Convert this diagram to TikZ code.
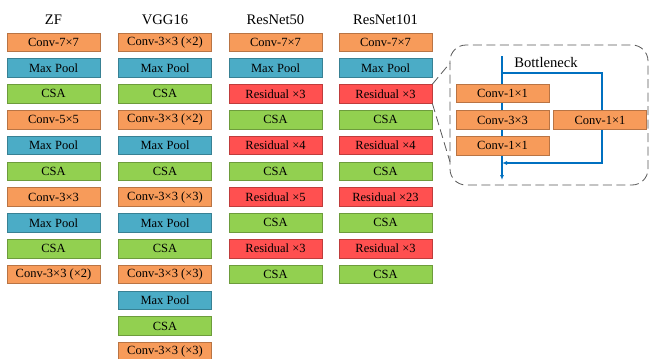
\documentclass[tikz,border=0pt]{standalone}
\usepackage{fontspec}
\setmainfont{Liberation Serif}
\usetikzlibrary{arrows.meta}
\usetikzlibrary{positioning}
\definecolor{convc}{HTML}{F79B5A}
\definecolor{poolc}{HTML}{4BACC6}
\definecolor{csac}{HTML}{92D050}
\definecolor{resc}{HTML}{FF5050}
\definecolor{linec}{HTML}{0070C0}
\tikzset{
  layer/.style={minimum width=93pt, minimum height=18.5pt, inner sep=0pt, line width=0.7pt,
    font=\fontsize{12.5}{14}\selectfont},
  conv/.style={layer, fill=convc, draw=convc!75!black},
  pool/.style={layer, fill=poolc, draw=poolc!75!black},
  csa/.style={layer, fill=csac, draw=csac!75!black},
  res/.style={layer, fill=resc, draw=resc!75!black},
  title/.style={font=\fontsize{14.6}{16}\selectfont},
  zoomline/.style={black!65, line width=0.8pt, dash pattern=on 9pt off 4.5pt},
  flow/.style={linec, line width=1.2pt},
}

\begin{document}
\begin{tikzpicture}[x=1pt, y=-1pt]
  \useasboundingbox (0,0) rectangle (649,359);
  % column titles
  \node[title] (zf) at (53.5,20) {ZF};
  \node[title] (vgg) at (165,20) {VGG16};
  \node[title] (r50) at (275.5,20) {ResNet50};
  \node[title] (r101) at (385.5,20) {ResNet101};
  % ZF
  \foreach \s/\t [count=\i] in {conv/{Conv-7×7}, pool/{Max Pool}, csa/CSA, conv/{Conv-5×5},
      pool/{Max Pool}, csa/CSA, conv/{Conv-3×3}, pool/{Max Pool}, csa/CSA, conv/{Conv-3×3 (×2)}}
    \node[\s] (zf-\i) at (53.5,{42.25+25.8*(\i-1)}) {\t};
  % VGG16
  \foreach \s/\t [count=\i] in {conv/{Conv-3×3 (×2)}, pool/{Max Pool}, csa/CSA, conv/{Conv-3×3 (×2)},
      pool/{Max Pool}, csa/CSA, conv/{Conv-3×3 (×3)}, pool/{Max Pool}, csa/CSA, conv/{Conv-3×3 (×3)},
      pool/{Max Pool}, csa/CSA, conv/{Conv-3×3 (×3)}}
    \node[\s] (vgg-\i) at (165,{42.25+25.8*(\i-1)}) {\t};
  % ResNet50
  \foreach \s/\t [count=\i] in {conv/{Conv-7×7}, pool/{Max Pool}, res/{Residual ×3}, csa/CSA,
      res/{Residual ×4}, csa/CSA, res/{Residual ×5}, csa/CSA, res/{Residual ×3}, csa/CSA}
    \node[\s] (r50-\i) at (275.5,{42.25+25.8*(\i-1)}) {\t};
  % ResNet101
  \foreach \s/\t [count=\i] in {conv/{Conv-7×7}, pool/{Max Pool}, res/{Residual ×3}, csa/CSA,
      res/{Residual ×4}, csa/CSA, res/{Residual ×23}, csa/CSA, res/{Residual ×3}, csa/CSA}
    \node[\s] (r101-\i) at (385.5,{42.25+25.8*(\i-1)}) {\t};

  % bottleneck detail
  \draw[zoomline, rounded corners=16pt] (450,45) rectangle (648,185);
  \coordinate (bt) at (450,63);
  \coordinate (bb) at (450,162);
  \draw[zoomline] (r101-3.north east) -- (bt);
  \draw[zoomline] (r101-3.south east) -- (bb);
  \node[title] (bneck) at (546,63) {Bottleneck};
  \coordinate (in) at (502,56);
  \coordinate (split) at (502,73);
  \coordinate (out) at (502,180);
  \coordinate (sc1) at (602,73);
  \coordinate (sc2) at (602,163);
  \coordinate (join) at (502,163);
  \draw[flow, -{Latex[length=5pt,width=4pt]}] (in) -- (out);
  \draw[flow, -{Latex[length=5pt,width=4pt]}] (split) -- (sc1) -- (sc2) -- (join);
  \node[conv] (b-1) at (502.5,93.5) {Conv-1×1};
  \node[conv] (b-2) at (502.5,120) {Conv-3×3};
  \node[conv] (b-3) at (502.5,145.6) {Conv-1×1};
  \node[conv] (b-sc) at (600,120) {Conv-1×1};
\end{tikzpicture}
\end{document}
